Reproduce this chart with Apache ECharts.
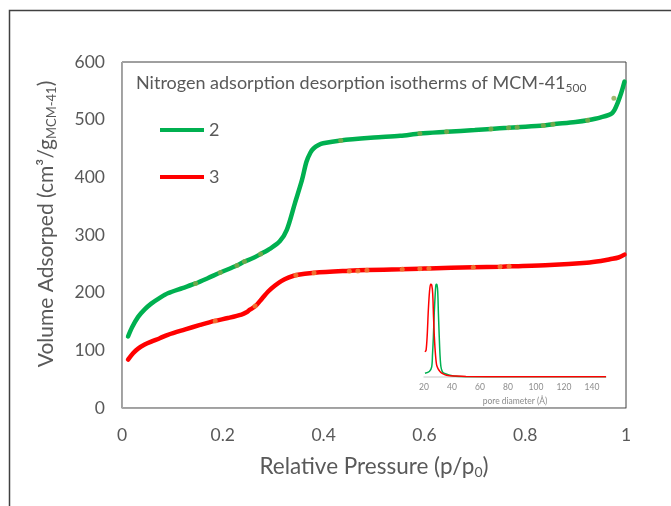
<!DOCTYPE html>
<html>
<head>
<meta charset="utf-8">
<script src="https://cdn.jsdelivr.net/npm/echarts@6/dist/echarts.min.js"></script>
<style>html,body{margin:0;padding:0;background:#fff}#c{width:671px;height:506px}</style>
</head>
<body>
<div id="c"></div>
<script>
// Main isotherm curves: [relative pressure, volume adsorbed]
var series2 = [[0.012,124],[0.02,140],[0.032,158],[0.045,171],[0.058,181],[0.075,191],[0.091,199],[0.12,208],[0.146,216],[0.17,225],[0.195,235],[0.228,247],[0.243,254],[0.26,260],[0.275,267],[0.295,277],[0.313,289],[0.327,309],[0.343,355],[0.357,395],[0.366,427],[0.374,443],[0.38,450],[0.39,456],[0.399,459],[0.434,464],[0.5,469],[0.552,472],[0.591,476],[0.644,479],[0.7,482],[0.732,484],[0.767,486],[0.784,487],[0.836,490],[0.855,492],[0.9,496],[0.924,499],[0.95,504],[0.972,511],[0.98,522],[0.99,545],[0.997,566]];
var series3 = [[0.012,84],[0.022,95],[0.032,103],[0.045,110],[0.058,115],[0.075,121],[0.091,127],[0.124,136],[0.155,144],[0.184,151],[0.21,156],[0.237,162],[0.247,166],[0.253,170],[0.265,177],[0.278,190],[0.29,202],[0.303,212],[0.316,220],[0.33,226],[0.346,230.5],[0.382,234.5],[0.45,238],[0.486,239.3],[0.552,240.5],[0.591,241.6],[0.609,242],[0.697,244],[0.75,245],[0.768,245.6],[0.849,248],[0.922,252],[0.95,255],[0.968,258],[0.985,261],[0.997,266]];
// Measured points drawn as small dots
var dots2 = [[0.146,216],[0.195,235],[0.228,247],[0.243,254],[0.275,267],[0.434,464],[0.591,476],[0.644,479],[0.732,484],[0.767,486],[0.784,487],[0.836,490],[0.855,492],[0.924,499],[0.976,537]];
var dots3 = [[0.185,151],[0.264,177],[0.345,230],[0.381,234],[0.451,237],[0.468,237.6],[0.486,238.7],[0.556,240.5],[0.591,241.6],[0.609,242],[0.697,244],[0.75,245],[0.768,245.6]];
// Inset: pore size distribution [pore diameter (Å), relative intensity]
var psd2 = [[20.7,0.04],[23.8,0.06],[25.5,0.11],[26.1,0.25],[26.7,0.43],[27.3,0.68],[27.9,0.86],[28.4,0.98],[28.8,1.0],[29.3,0.99],[29.8,0.92],[30.3,0.68],[30.9,0.43],[31.5,0.22],[32.1,0.11],[33,0.06],[34.3,0.04],[41,0.01],[50,0.003],[150,0.002]];
var psd3 = [[20.7,0.27],[21.5,0.29],[22.3,0.45],[23.1,0.72],[24,0.93],[24.8,1.0],[25.5,0.99],[26.2,0.9],[26.8,0.65],[27.4,0.43],[28.2,0.24],[29,0.13],[30,0.09],[31.4,0.06],[33,0.04],[36,0.02],[43,0.01],[50,0.005],[80,0.003],[150,0.002]];
var seriesNames = ['2','3'];
var xTicks = {min:0, max:1, interval:0.2};
var yTicks = {min:0, max:600, interval:100};
var insetTicks = {min:20, max:150, interval:20};

var FONT = 'Lato';
var TXT = '#595959';
var GREEN = '#00b050', RED = '#ff0000';

var chart = echarts.init(document.getElementById('c'), null, {renderer:'canvas'});
chart.setOption({
  animation:false,
  backgroundColor:'#ffffff',
  textStyle:{fontFamily:FONT},
  grid:[
    {left:122, top:62, right:45, bottom:98, show:true, borderColor:'#404040', borderWidth:1, backgroundColor:'transparent'},
    {left:424, top:284, width:182, height:93, show:false}
  ],
  legend:{
    data:[{name:'2', icon:'rect'},{name:'3', icon:'rect'}],
    orient:'vertical', left:155, top:116, itemWidth:44, itemHeight:4, itemGap:29,
    textStyle:{color:TXT, fontSize:18, fontFamily:FONT}
  },
  xAxis:[
    {type:'value', gridIndex:0, min:xTicks.min, max:xTicks.max, interval:xTicks.interval,
     axisLine:{show:true, lineStyle:{color:'#a6a6a6', width:1}}, axisTick:{show:false}, splitLine:{show:false},
     axisLabel:{color:TXT, fontSize:17.5, margin:18, fontFamily:FONT},
     name:'{a|Relative Pressure (p/p}{s|0}{a|)}', nameLocation:'middle', nameGap:46,
     nameTextStyle:{rich:{a:{fontSize:22.5, color:TXT, fontFamily:FONT}, s:{fontSize:14, color:TXT, fontFamily:FONT, padding:[11,0,0,0]}}}
    },
    {type:'value', gridIndex:1, min:insetTicks.min, max:insetTicks.max, interval:insetTicks.interval,
     axisLine:{show:true, lineStyle:{color:'#d9d9d9', width:1.5}}, axisTick:{show:false}, splitLine:{show:false},
     axisLabel:{color:'#8c8c8c', fontSize:8.5, margin:6, showMaxLabel:false, fontFamily:FONT},
     name:'pore diameter (Å)', nameLocation:'middle', nameGap:20,
     nameTextStyle:{color:'#8c8c8c', fontSize:8.5, fontFamily:FONT}
    }
  ],
  yAxis:[
    {type:'value', gridIndex:0, min:yTicks.min, max:yTicks.max, interval:yTicks.interval,
     axisLine:{show:true, lineStyle:{color:'#a6a6a6', width:1}}, axisTick:{show:false}, splitLine:{show:false},
     axisLabel:{color:TXT, fontSize:17.5, margin:17, fontFamily:FONT},
     name:'{a|Volume Adsorped (cm³/g}{s|MCM-41}{a|)}', nameLocation:'middle', nameGap:64, nameRotate:90,
     nameTextStyle:{padding:[0,0,0,22], rich:{a:{fontSize:21, color:TXT, fontFamily:FONT}, s:{fontSize:13, color:TXT, fontFamily:FONT, padding:[11,0,0,0]}}}
    },
    {type:'value', gridIndex:1, min:0, max:1, show:false}
  ],
  graphic:[
    {type:'rect', left:7, top:8, shape:{width:700, height:600}, style:{fill:'none', stroke:'#404040', lineWidth:1.5}, z:-1},
    {type:'text', left:136, top:74, style:{
      text:'{a|Nitrogen adsorption desorption isotherms of MCM-41}{s|500}',
      rich:{a:{fontSize:18, fill:TXT, fontFamily:FONT}, s:{fontSize:12, fill:TXT, fontFamily:FONT, padding:[10,0,0,0]}}
    }}
  ],
  series:[
    {name:seriesNames[0], type:'line', xAxisIndex:0, yAxisIndex:0, data:series2, smooth:0.3, showSymbol:false,
     lineStyle:{color:GREEN, width:4.5, cap:'round'}, itemStyle:{color:GREEN}, z:2},
    {name:seriesNames[1], type:'line', xAxisIndex:0, yAxisIndex:0, data:series3, smooth:0.3, showSymbol:false,
     lineStyle:{color:RED, width:4.5, cap:'round'}, itemStyle:{color:RED}, z:2},
    {name:'dots2', type:'scatter', xAxisIndex:0, yAxisIndex:0, data:dots2, symbolSize:5, itemStyle:{color:'#8aa84a'}, z:3},
    {name:'dots3', type:'scatter', xAxisIndex:0, yAxisIndex:0, data:dots3, symbolSize:5, itemStyle:{color:'#ec8c3c'}, z:3},
    {name:'psd2', type:'line', xAxisIndex:1, yAxisIndex:1, data:psd2, smooth:0.3, showSymbol:false,
     lineStyle:{color:GREEN, width:1.5}, z:4},
    {name:'psd3', type:'line', xAxisIndex:1, yAxisIndex:1, data:psd3, smooth:0.3, showSymbol:false,
     lineStyle:{color:RED, width:1.5}, z:5}
  ]
});
</script>
</body>
</html>
